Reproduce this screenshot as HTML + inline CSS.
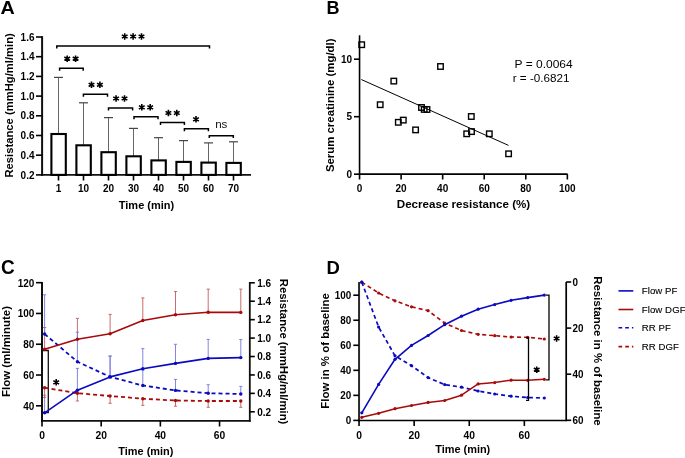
<!DOCTYPE html>
<html><head><meta charset="utf-8"><style>
html,body{margin:0;padding:0;background:#fff;}
body{width:685px;height:458px;overflow:hidden;}
svg{display:block;font-family:"Liberation Sans", sans-serif;will-change:transform;}
</style></head><body>
<svg width="685" height="458" viewBox="0 0 685 458">
<rect width="685" height="458" fill="#fff"/>
<text transform="translate(0.4,14.0) scale(1.06,1)" font-size="18.65" font-weight="bold" text-anchor="start" fill="#000" >A</text>
<line x1="42.1" y1="36.2" x2="42.1" y2="175.9" stroke="#111" stroke-width="2" />
<line x1="41.1" y1="174.9" x2="251" y2="174.9" stroke="#111" stroke-width="1.9" />
<line x1="36" y1="174.9" x2="42.1" y2="174.9" stroke="#000" stroke-width="1.6" />
<text x="34.5" y="178.5" font-size="10" font-weight="bold" text-anchor="end" fill="#000" >0.2</text>
<line x1="36" y1="155.20000000000002" x2="42.1" y2="155.20000000000002" stroke="#000" stroke-width="1.6" />
<text x="34.5" y="158.8" font-size="10" font-weight="bold" text-anchor="end" fill="#000" >0.4</text>
<line x1="36" y1="135.5" x2="42.1" y2="135.5" stroke="#000" stroke-width="1.6" />
<text x="34.5" y="139.1" font-size="10" font-weight="bold" text-anchor="end" fill="#000" >0.6</text>
<line x1="36" y1="115.8" x2="42.1" y2="115.8" stroke="#000" stroke-width="1.6" />
<text x="34.5" y="119.39999999999999" font-size="10" font-weight="bold" text-anchor="end" fill="#000" >0.8</text>
<line x1="36" y1="96.10000000000001" x2="42.1" y2="96.10000000000001" stroke="#000" stroke-width="1.6" />
<text x="34.5" y="99.7" font-size="10" font-weight="bold" text-anchor="end" fill="#000" >1.0</text>
<line x1="36" y1="76.4" x2="42.1" y2="76.4" stroke="#000" stroke-width="1.6" />
<text x="34.5" y="80.0" font-size="10" font-weight="bold" text-anchor="end" fill="#000" >1.2</text>
<line x1="36" y1="56.69999999999999" x2="42.1" y2="56.69999999999999" stroke="#000" stroke-width="1.6" />
<text x="34.5" y="60.29999999999999" font-size="10" font-weight="bold" text-anchor="end" fill="#000" >1.4</text>
<line x1="36" y1="37.0" x2="42.1" y2="37.0" stroke="#000" stroke-width="1.6" />
<text x="34.5" y="40.6" font-size="10" font-weight="bold" text-anchor="end" fill="#000" >1.6</text>
<line x1="58.5" y1="77.4" x2="58.5" y2="134.0" stroke="#666" stroke-width="1" />
<line x1="54.0" y1="77.4" x2="63.0" y2="77.4" stroke="#444" stroke-width="1.2" />
<rect x="51.4" y="134.0" width="14.4" height="40.900000000000006" fill="#fff" stroke="#000" stroke-width="2.1"/>
<line x1="58.5" y1="174.9" x2="58.5" y2="180.5" stroke="#000" stroke-width="1.6" />
<text x="58.5" y="192" font-size="10" font-weight="bold" text-anchor="middle" fill="#000" >1</text>
<line x1="83.5" y1="102.8" x2="83.5" y2="145.3" stroke="#666" stroke-width="1" />
<line x1="79.0" y1="102.8" x2="88.0" y2="102.8" stroke="#444" stroke-width="1.2" />
<rect x="76.39999999999999" y="145.3" width="14.4" height="29.599999999999994" fill="#fff" stroke="#000" stroke-width="2.1"/>
<line x1="83.5" y1="174.9" x2="83.5" y2="180.5" stroke="#000" stroke-width="1.6" />
<text x="83.5" y="192" font-size="10" font-weight="bold" text-anchor="middle" fill="#000" >10</text>
<line x1="108.5" y1="117.6" x2="108.5" y2="152.2" stroke="#666" stroke-width="1" />
<line x1="104.0" y1="117.6" x2="113.0" y2="117.6" stroke="#444" stroke-width="1.2" />
<rect x="101.39999999999999" y="152.2" width="14.4" height="22.700000000000017" fill="#fff" stroke="#000" stroke-width="2.1"/>
<line x1="108.5" y1="174.9" x2="108.5" y2="180.5" stroke="#000" stroke-width="1.6" />
<text x="108.5" y="192" font-size="10" font-weight="bold" text-anchor="middle" fill="#000" >20</text>
<line x1="133.5" y1="128.4" x2="133.5" y2="156.3" stroke="#666" stroke-width="1" />
<line x1="129.0" y1="128.4" x2="138.0" y2="128.4" stroke="#444" stroke-width="1.2" />
<rect x="126.39999999999999" y="156.3" width="14.4" height="18.599999999999994" fill="#fff" stroke="#000" stroke-width="2.1"/>
<line x1="133.5" y1="174.9" x2="133.5" y2="180.5" stroke="#000" stroke-width="1.6" />
<text x="133.5" y="192" font-size="10" font-weight="bold" text-anchor="middle" fill="#000" >30</text>
<line x1="158.5" y1="137.7" x2="158.5" y2="160.4" stroke="#666" stroke-width="1" />
<line x1="154.0" y1="137.7" x2="163.0" y2="137.7" stroke="#444" stroke-width="1.2" />
<rect x="151.4" y="160.4" width="14.4" height="14.5" fill="#fff" stroke="#000" stroke-width="2.1"/>
<line x1="158.5" y1="174.9" x2="158.5" y2="180.5" stroke="#000" stroke-width="1.6" />
<text x="158.5" y="192" font-size="10" font-weight="bold" text-anchor="middle" fill="#000" >40</text>
<line x1="183.5" y1="140.6" x2="183.5" y2="161.9" stroke="#666" stroke-width="1" />
<line x1="179.0" y1="140.6" x2="188.0" y2="140.6" stroke="#444" stroke-width="1.2" />
<rect x="176.4" y="161.9" width="14.4" height="13.0" fill="#fff" stroke="#000" stroke-width="2.1"/>
<line x1="183.5" y1="174.9" x2="183.5" y2="180.5" stroke="#000" stroke-width="1.6" />
<text x="183.5" y="192" font-size="10" font-weight="bold" text-anchor="middle" fill="#000" >50</text>
<line x1="208.5" y1="142.9" x2="208.5" y2="162.6" stroke="#666" stroke-width="1" />
<line x1="204.0" y1="142.9" x2="213.0" y2="142.9" stroke="#444" stroke-width="1.2" />
<rect x="201.4" y="162.6" width="14.4" height="12.300000000000011" fill="#fff" stroke="#000" stroke-width="2.1"/>
<line x1="208.5" y1="174.9" x2="208.5" y2="180.5" stroke="#000" stroke-width="1.6" />
<text x="208.5" y="192" font-size="10" font-weight="bold" text-anchor="middle" fill="#000" >60</text>
<line x1="233.5" y1="141.8" x2="233.5" y2="162.9" stroke="#666" stroke-width="1" />
<line x1="229.0" y1="141.8" x2="238.0" y2="141.8" stroke="#444" stroke-width="1.2" />
<rect x="226.4" y="162.9" width="14.4" height="12.0" fill="#fff" stroke="#000" stroke-width="2.1"/>
<line x1="233.5" y1="174.9" x2="233.5" y2="180.5" stroke="#000" stroke-width="1.6" />
<text x="233.5" y="192" font-size="10" font-weight="bold" text-anchor="middle" fill="#000" >70</text>
<text x="146.5" y="209" font-size="11" font-weight="bold" text-anchor="middle" fill="#000" >Time (min)</text>
<text x="0" y="0" font-size="11.25" font-weight="bold" text-anchor="middle" fill="#000" transform="translate(12.6,105.4) rotate(-90)">Resistance (mmHg/ml/min)</text>
<polyline points="56.8,48.5 56.8,46 209.5,46 209.5,48.5" fill="none" stroke="#000" stroke-width="1.5"/>
<path d="M124.70,33.20L124.70,39.80M121.84,34.85L127.56,38.15M127.56,34.85L121.84,38.15" stroke="#000" stroke-width="1.6" fill="none"/><circle cx="124.69999999999999" cy="36.5" r="1.3" fill="#000"/>
<path d="M133.10,33.20L133.10,39.80M130.24,34.85L135.96,38.15M135.96,34.85L130.24,38.15" stroke="#000" stroke-width="1.6" fill="none"/><circle cx="133.1" cy="36.5" r="1.3" fill="#000"/>
<path d="M141.50,33.20L141.50,39.80M138.64,34.85L144.36,38.15M144.36,34.85L138.64,38.15" stroke="#000" stroke-width="1.6" fill="none"/><circle cx="141.5" cy="36.5" r="1.3" fill="#000"/>
<polyline points="59.6,70.7 59.6,68.2 83.2,68.2 83.2,70.7" fill="none" stroke="#000" stroke-width="1.5"/>
<path d="M67.20,55.40L67.20,62.00M64.34,57.05L70.06,60.35M70.06,57.05L64.34,60.35" stroke="#000" stroke-width="1.6" fill="none"/><circle cx="67.2" cy="58.7" r="1.3" fill="#000"/>
<path d="M75.60,55.40L75.60,62.00M72.74,57.05L78.46,60.35M78.46,57.05L72.74,60.35" stroke="#000" stroke-width="1.6" fill="none"/><circle cx="75.60000000000001" cy="58.7" r="1.3" fill="#000"/>
<polyline points="83.4,96.8 83.4,94.3 107.5,94.3 107.5,96.8" fill="none" stroke="#000" stroke-width="1.5"/>
<path d="M91.50,81.50L91.50,88.10M88.64,83.15L94.36,86.45M94.36,83.15L88.64,86.45" stroke="#000" stroke-width="1.6" fill="none"/><circle cx="91.5" cy="84.8" r="1.3" fill="#000"/>
<path d="M99.90,81.50L99.90,88.10M97.04,83.15L102.76,86.45M102.76,83.15L97.04,86.45" stroke="#000" stroke-width="1.6" fill="none"/><circle cx="99.9" cy="84.8" r="1.3" fill="#000"/>
<polyline points="108.5,110.5 108.5,108 132.6,108 132.6,110.5" fill="none" stroke="#000" stroke-width="1.5"/>
<path d="M116.10,95.20L116.10,101.80M113.24,96.85L118.96,100.15M118.96,96.85L113.24,100.15" stroke="#000" stroke-width="1.6" fill="none"/><circle cx="116.1" cy="98.5" r="1.3" fill="#000"/>
<path d="M124.50,95.20L124.50,101.80M121.64,96.85L127.36,100.15M127.36,96.85L121.64,100.15" stroke="#000" stroke-width="1.6" fill="none"/><circle cx="124.5" cy="98.5" r="1.3" fill="#000"/>
<polyline points="134,119.3 134,116.8 158,116.8 158,119.3" fill="none" stroke="#000" stroke-width="1.5"/>
<path d="M141.80,104.00L141.80,110.60M138.94,105.65L144.66,108.95M144.66,105.65L138.94,108.95" stroke="#000" stroke-width="1.6" fill="none"/><circle cx="141.8" cy="107.3" r="1.3" fill="#000"/>
<path d="M150.20,104.00L150.20,110.60M147.34,105.65L153.06,108.95M153.06,105.65L147.34,108.95" stroke="#000" stroke-width="1.6" fill="none"/><circle cx="150.2" cy="107.3" r="1.3" fill="#000"/>
<polyline points="160.5,125.0 160.5,122.5 184.4,122.5 184.4,125.0" fill="none" stroke="#000" stroke-width="1.5"/>
<path d="M168.40,109.70L168.40,116.30M165.54,111.35L171.26,114.65M171.26,111.35L165.54,114.65" stroke="#000" stroke-width="1.6" fill="none"/><circle cx="168.4" cy="113.0" r="1.3" fill="#000"/>
<path d="M176.80,109.70L176.80,116.30M173.94,111.35L179.66,114.65M179.66,111.35L173.94,114.65" stroke="#000" stroke-width="1.6" fill="none"/><circle cx="176.79999999999998" cy="113.0" r="1.3" fill="#000"/>
<polyline points="184.4,131.3 184.4,128.8 208.4,128.8 208.4,131.3" fill="none" stroke="#000" stroke-width="1.5"/>
<path d="M196.00,116.00L196.00,122.60M193.14,117.65L198.86,120.95M198.86,117.65L193.14,120.95" stroke="#000" stroke-width="1.6" fill="none"/><circle cx="196.0" cy="119.30000000000001" r="1.3" fill="#000"/>
<polyline points="209.3,138.1 209.3,135.7 233.3,135.7 233.3,138.1" fill="none" stroke="#000" stroke-width="1.5"/>
<text x="221.3" y="128.4" font-size="11.6" font-weight="normal" text-anchor="middle" fill="#111" >ns</text>
<text x="326.6" y="13.8" font-size="18" font-weight="bold" text-anchor="start" fill="#000" >B</text>
<line x1="359.55" y1="35.3" x2="359.55" y2="175.0" stroke="#000" stroke-width="1.6" />
<line x1="358.75" y1="174.2" x2="567.6" y2="174.2" stroke="#000" stroke-width="1.75" />
<line x1="354" y1="174.2" x2="359.55" y2="174.2" stroke="#000" stroke-width="1.6" />
<text x="352" y="177.79999999999998" font-size="10" font-weight="bold" text-anchor="end" fill="#000" >0</text>
<line x1="354" y1="116.69999999999999" x2="359.55" y2="116.69999999999999" stroke="#000" stroke-width="1.6" />
<text x="352" y="120.29999999999998" font-size="10" font-weight="bold" text-anchor="end" fill="#000" >5</text>
<line x1="354" y1="59.19999999999999" x2="359.55" y2="59.19999999999999" stroke="#000" stroke-width="1.6" />
<text x="352" y="62.79999999999999" font-size="10" font-weight="bold" text-anchor="end" fill="#000" >10</text>
<line x1="359.55" y1="174.2" x2="359.55" y2="179.5" stroke="#000" stroke-width="1.6" />
<text x="359.55" y="192" font-size="10" font-weight="bold" text-anchor="middle" fill="#000" >0</text>
<line x1="401.11" y1="174.2" x2="401.11" y2="179.5" stroke="#000" stroke-width="1.6" />
<text x="401.11" y="192" font-size="10" font-weight="bold" text-anchor="middle" fill="#000" >20</text>
<line x1="442.67" y1="174.2" x2="442.67" y2="179.5" stroke="#000" stroke-width="1.6" />
<text x="442.67" y="192" font-size="10" font-weight="bold" text-anchor="middle" fill="#000" >40</text>
<line x1="484.23" y1="174.2" x2="484.23" y2="179.5" stroke="#000" stroke-width="1.6" />
<text x="484.23" y="192" font-size="10" font-weight="bold" text-anchor="middle" fill="#000" >60</text>
<line x1="525.79" y1="174.2" x2="525.79" y2="179.5" stroke="#000" stroke-width="1.6" />
<text x="525.79" y="192" font-size="10" font-weight="bold" text-anchor="middle" fill="#000" >80</text>
<line x1="567.35" y1="174.2" x2="567.35" y2="179.5" stroke="#000" stroke-width="1.6" />
<text x="567.35" y="192" font-size="10" font-weight="bold" text-anchor="middle" fill="#000" >100</text>
<text x="463.5" y="208.2" font-size="11.6" font-weight="bold" text-anchor="middle" fill="#000" >Decrease resistance (%)</text>
<text x="0" y="0" font-size="11.4" font-weight="bold" text-anchor="middle" fill="#000" transform="translate(334.3,105.3) rotate(-90)">Serum creatinine (mg/dl)</text>
<rect x="358.95" y="41.95" width="5.5" height="5.5" fill="none" stroke="#000" stroke-width="1.4"/>
<rect x="391.05" y="78.35" width="5.5" height="5.5" fill="none" stroke="#000" stroke-width="1.4"/>
<rect x="437.75" y="63.75" width="5.5" height="5.5" fill="none" stroke="#000" stroke-width="1.4"/>
<rect x="377.45" y="101.95" width="5.5" height="5.5" fill="none" stroke="#000" stroke-width="1.4"/>
<rect x="395.55" y="119.55" width="5.5" height="5.5" fill="none" stroke="#000" stroke-width="1.4"/>
<rect x="400.55" y="117.35" width="5.5" height="5.5" fill="none" stroke="#000" stroke-width="1.4"/>
<rect x="412.85" y="127.15" width="5.5" height="5.5" fill="none" stroke="#000" stroke-width="1.4"/>
<rect x="418.75" y="104.75" width="5.5" height="5.5" fill="none" stroke="#000" stroke-width="1.4"/>
<rect x="421.45" y="106.65" width="5.5" height="5.5" fill="none" stroke="#000" stroke-width="1.4"/>
<rect x="424.25" y="106.75" width="5.5" height="5.5" fill="none" stroke="#000" stroke-width="1.4"/>
<rect x="463.95" y="131.05" width="5.5" height="5.5" fill="none" stroke="#000" stroke-width="1.4"/>
<rect x="468.55" y="113.75" width="5.5" height="5.5" fill="none" stroke="#000" stroke-width="1.4"/>
<rect x="468.75" y="128.85" width="5.5" height="5.5" fill="none" stroke="#000" stroke-width="1.4"/>
<rect x="486.55" y="131.05" width="5.5" height="5.5" fill="none" stroke="#000" stroke-width="1.4"/>
<rect x="505.85" y="151.05" width="5.5" height="5.5" fill="none" stroke="#000" stroke-width="1.4"/>
<line x1="361.3" y1="79.5" x2="508.5" y2="145.4" stroke="#000" stroke-width="1" />
<text transform="translate(514.6,68.1) scale(1,0.92)" font-size="12" font-weight="normal" text-anchor="start" fill="#000" >P = 0.0064</text>
<text transform="translate(512.7,81.9) scale(0.975,0.92)" font-size="12" font-weight="normal" text-anchor="start" fill="#000" >r = -0.6821</text>
<text transform="translate(1.0,274.0) scale(0.976,1)" font-size="19.5" font-weight="bold" text-anchor="start" fill="#000" >C</text>
<line x1="42.0" y1="282" x2="42.0" y2="421.85" stroke="#111" stroke-width="2" />
<line x1="41.0" y1="420.85" x2="250.65" y2="420.85" stroke="#111" stroke-width="1.85" />
<line x1="249.8" y1="282" x2="249.8" y2="421.75" stroke="#111" stroke-width="1.8" />
<line x1="36" y1="405.8" x2="42.0" y2="405.8" stroke="#000" stroke-width="1.6" />
<text transform="translate(34.3,409.7) scale(0.94,1)" font-size="10.6" font-weight="bold" text-anchor="end" fill="#000" >40</text>
<line x1="36" y1="375.02" x2="42.0" y2="375.02" stroke="#000" stroke-width="1.6" />
<text transform="translate(34.3,378.91999999999996) scale(0.94,1)" font-size="10.6" font-weight="bold" text-anchor="end" fill="#000" >60</text>
<line x1="36" y1="344.24" x2="42.0" y2="344.24" stroke="#000" stroke-width="1.6" />
<text transform="translate(34.3,348.14) scale(0.94,1)" font-size="10.6" font-weight="bold" text-anchor="end" fill="#000" >80</text>
<line x1="36" y1="313.46000000000004" x2="42.0" y2="313.46000000000004" stroke="#000" stroke-width="1.6" />
<text transform="translate(34.3,317.36) scale(0.94,1)" font-size="10.6" font-weight="bold" text-anchor="end" fill="#000" >100</text>
<line x1="36" y1="282.68" x2="42.0" y2="282.68" stroke="#000" stroke-width="1.6" />
<text transform="translate(34.3,286.58) scale(0.94,1)" font-size="10.6" font-weight="bold" text-anchor="end" fill="#000" >120</text>
<line x1="249.8" y1="411.8" x2="254.8" y2="411.8" stroke="#000" stroke-width="1.6" />
<text transform="translate(257.2,415.6) scale(0.95,1)" font-size="10.5" font-weight="bold" text-anchor="start" fill="#000" >0.2</text>
<line x1="249.8" y1="393.37142857142857" x2="254.8" y2="393.37142857142857" stroke="#000" stroke-width="1.6" />
<text transform="translate(257.2,397.1714285714286) scale(0.95,1)" font-size="10.5" font-weight="bold" text-anchor="start" fill="#000" >0.4</text>
<line x1="249.8" y1="374.9428571428572" x2="254.8" y2="374.9428571428572" stroke="#000" stroke-width="1.6" />
<text transform="translate(257.2,378.7428571428572) scale(0.95,1)" font-size="10.5" font-weight="bold" text-anchor="start" fill="#000" >0.6</text>
<line x1="249.8" y1="356.51428571428573" x2="254.8" y2="356.51428571428573" stroke="#000" stroke-width="1.6" />
<text transform="translate(257.2,360.31428571428575) scale(0.95,1)" font-size="10.5" font-weight="bold" text-anchor="start" fill="#000" >0.8</text>
<line x1="249.8" y1="338.0857142857143" x2="254.8" y2="338.0857142857143" stroke="#000" stroke-width="1.6" />
<text transform="translate(257.2,341.8857142857143) scale(0.95,1)" font-size="10.5" font-weight="bold" text-anchor="start" fill="#000" >1.0</text>
<line x1="249.8" y1="319.65714285714284" x2="254.8" y2="319.65714285714284" stroke="#000" stroke-width="1.6" />
<text transform="translate(257.2,323.45714285714286) scale(0.95,1)" font-size="10.5" font-weight="bold" text-anchor="start" fill="#000" >1.2</text>
<line x1="249.8" y1="301.22857142857146" x2="254.8" y2="301.22857142857146" stroke="#000" stroke-width="1.6" />
<text transform="translate(257.2,305.02857142857147) scale(0.95,1)" font-size="10.5" font-weight="bold" text-anchor="start" fill="#000" >1.4</text>
<line x1="249.8" y1="282.8" x2="254.8" y2="282.8" stroke="#000" stroke-width="1.6" />
<text transform="translate(257.2,286.6) scale(0.95,1)" font-size="10.5" font-weight="bold" text-anchor="start" fill="#000" >1.6</text>
<line x1="42.0" y1="420.85" x2="42.0" y2="426.5" stroke="#000" stroke-width="1.6" />
<text x="42.0" y="438.7" font-size="10.3" font-weight="bold" text-anchor="middle" fill="#000" >0</text>
<line x1="101.18" y1="420.85" x2="101.18" y2="426.5" stroke="#000" stroke-width="1.6" />
<text x="101.18" y="438.7" font-size="10.3" font-weight="bold" text-anchor="middle" fill="#000" >20</text>
<line x1="160.36" y1="420.85" x2="160.36" y2="426.5" stroke="#000" stroke-width="1.6" />
<text x="160.36" y="438.7" font-size="10.3" font-weight="bold" text-anchor="middle" fill="#000" >40</text>
<line x1="219.54" y1="420.85" x2="219.54" y2="426.5" stroke="#000" stroke-width="1.6" />
<text x="219.54" y="438.7" font-size="10.3" font-weight="bold" text-anchor="middle" fill="#000" >60</text>
<text transform="translate(145.8,454.7) scale(0.96,1)" font-size="11.4" font-weight="bold" text-anchor="middle" fill="#000" >Time (min)</text>
<text transform="translate(10.4,351.5) rotate(-90) scale(1,1)" font-size="11.45" font-weight="bold" text-anchor="middle">Flow (ml/minute)</text>
<text transform="translate(280.1,351.6) rotate(90) scale(1,1)" font-size="11.35" font-weight="bold" text-anchor="middle">Resistance (mmHg/ml/min)</text>
<line x1="44.6" y1="349.2" x2="44.6" y2="327.5" stroke="#c25c5c" stroke-width="0.9" />
<line x1="43.0" y1="327.5" x2="46.2" y2="327.5" stroke="#c25c5c" stroke-width="0.9" />
<line x1="77.4" y1="339.2" x2="77.4" y2="318.4" stroke="#c25c5c" stroke-width="0.9" />
<line x1="75.80000000000001" y1="318.4" x2="79.0" y2="318.4" stroke="#c25c5c" stroke-width="0.9" />
<line x1="110.1" y1="333.8" x2="110.1" y2="314.4" stroke="#c25c5c" stroke-width="0.9" />
<line x1="108.5" y1="314.4" x2="111.69999999999999" y2="314.4" stroke="#c25c5c" stroke-width="0.9" />
<line x1="142.8" y1="320.5" x2="142.8" y2="297.9" stroke="#c25c5c" stroke-width="0.9" />
<line x1="141.20000000000002" y1="297.9" x2="144.4" y2="297.9" stroke="#c25c5c" stroke-width="0.9" />
<line x1="175.5" y1="314.8" x2="175.5" y2="291.6" stroke="#c25c5c" stroke-width="0.9" />
<line x1="173.9" y1="291.6" x2="177.1" y2="291.6" stroke="#c25c5c" stroke-width="0.9" />
<line x1="208.2" y1="312.3" x2="208.2" y2="289.1" stroke="#c25c5c" stroke-width="0.9" />
<line x1="206.6" y1="289.1" x2="209.79999999999998" y2="289.1" stroke="#c25c5c" stroke-width="0.9" />
<line x1="240.8" y1="312.4" x2="240.8" y2="289.1" stroke="#c25c5c" stroke-width="0.9" />
<line x1="239.20000000000002" y1="289.1" x2="242.4" y2="289.1" stroke="#c25c5c" stroke-width="0.9" />
<line x1="44.6" y1="412.8" x2="44.6" y2="395.2" stroke="#7878dc" stroke-width="0.9" />
<line x1="43.0" y1="395.2" x2="46.2" y2="395.2" stroke="#7878dc" stroke-width="0.9" />
<line x1="77.4" y1="390.2" x2="77.4" y2="368.4" stroke="#7878dc" stroke-width="0.9" />
<line x1="75.80000000000001" y1="368.4" x2="79.0" y2="368.4" stroke="#7878dc" stroke-width="0.9" />
<line x1="110.1" y1="376.9" x2="110.1" y2="356.1" stroke="#7878dc" stroke-width="0.9" />
<line x1="108.5" y1="356.1" x2="111.69999999999999" y2="356.1" stroke="#7878dc" stroke-width="0.9" />
<line x1="142.8" y1="368.8" x2="142.8" y2="348.6" stroke="#7878dc" stroke-width="0.9" />
<line x1="141.20000000000002" y1="348.6" x2="144.4" y2="348.6" stroke="#7878dc" stroke-width="0.9" />
<line x1="175.5" y1="363.4" x2="175.5" y2="344.3" stroke="#7878dc" stroke-width="0.9" />
<line x1="173.9" y1="344.3" x2="177.1" y2="344.3" stroke="#7878dc" stroke-width="0.9" />
<line x1="208.2" y1="358.4" x2="208.2" y2="339.4" stroke="#7878dc" stroke-width="0.9" />
<line x1="206.6" y1="339.4" x2="209.79999999999998" y2="339.4" stroke="#7878dc" stroke-width="0.9" />
<line x1="240.8" y1="357.6" x2="240.8" y2="339.5" stroke="#7878dc" stroke-width="0.9" />
<line x1="239.20000000000002" y1="339.5" x2="242.4" y2="339.5" stroke="#7878dc" stroke-width="0.9" />
<line x1="44.6" y1="334.0" x2="44.6" y2="294.8" stroke="#7878dc" stroke-width="0.9" />
<line x1="43.0" y1="294.8" x2="46.2" y2="294.8" stroke="#7878dc" stroke-width="0.9" />
<line x1="77.4" y1="361.7" x2="77.4" y2="332.2" stroke="#7878dc" stroke-width="0.9" />
<line x1="75.80000000000001" y1="332.2" x2="79.0" y2="332.2" stroke="#7878dc" stroke-width="0.9" />
<line x1="110.1" y1="376.9" x2="110.1" y2="356.0" stroke="#7878dc" stroke-width="0.9" />
<line x1="108.5" y1="356.0" x2="111.69999999999999" y2="356.0" stroke="#7878dc" stroke-width="0.9" />
<line x1="142.8" y1="385.5" x2="142.8" y2="370" stroke="#7878dc" stroke-width="0.9" />
<line x1="141.20000000000002" y1="370" x2="144.4" y2="370" stroke="#7878dc" stroke-width="0.9" />
<line x1="175.5" y1="390.4" x2="175.5" y2="379.4" stroke="#7878dc" stroke-width="0.9" />
<line x1="173.9" y1="379.4" x2="177.1" y2="379.4" stroke="#7878dc" stroke-width="0.9" />
<line x1="208.2" y1="393.2" x2="208.2" y2="384.7" stroke="#7878dc" stroke-width="0.9" />
<line x1="206.6" y1="384.7" x2="209.79999999999998" y2="384.7" stroke="#7878dc" stroke-width="0.9" />
<line x1="240.8" y1="394.0" x2="240.8" y2="386.4" stroke="#7878dc" stroke-width="0.9" />
<line x1="239.20000000000002" y1="386.4" x2="242.4" y2="386.4" stroke="#7878dc" stroke-width="0.9" />
<line x1="44.6" y1="387.7" x2="44.6" y2="397.4" stroke="#c25c5c" stroke-width="0.9" />
<line x1="43.0" y1="397.4" x2="46.2" y2="397.4" stroke="#c25c5c" stroke-width="0.9" />
<line x1="77.4" y1="393.2" x2="77.4" y2="401.0" stroke="#c25c5c" stroke-width="0.9" />
<line x1="75.80000000000001" y1="401.0" x2="79.0" y2="401.0" stroke="#c25c5c" stroke-width="0.9" />
<line x1="110.1" y1="396.0" x2="110.1" y2="403.3" stroke="#c25c5c" stroke-width="0.9" />
<line x1="108.5" y1="403.3" x2="111.69999999999999" y2="403.3" stroke="#c25c5c" stroke-width="0.9" />
<line x1="142.8" y1="398.7" x2="142.8" y2="405.4" stroke="#c25c5c" stroke-width="0.9" />
<line x1="141.20000000000002" y1="405.4" x2="144.4" y2="405.4" stroke="#c25c5c" stroke-width="0.9" />
<line x1="175.5" y1="400.5" x2="175.5" y2="406.2" stroke="#c25c5c" stroke-width="0.9" />
<line x1="173.9" y1="406.2" x2="177.1" y2="406.2" stroke="#c25c5c" stroke-width="0.9" />
<line x1="208.2" y1="401.0" x2="208.2" y2="407.3" stroke="#c25c5c" stroke-width="0.9" />
<line x1="206.6" y1="407.3" x2="209.79999999999998" y2="407.3" stroke="#c25c5c" stroke-width="0.9" />
<line x1="240.8" y1="401.0" x2="240.8" y2="407.3" stroke="#c25c5c" stroke-width="0.9" />
<line x1="239.20000000000002" y1="407.3" x2="242.4" y2="407.3" stroke="#c25c5c" stroke-width="0.9" />
<polyline points="42.3,350.5 48.3,350.5 48.3,412.6 42.3,412.6" fill="none" stroke="#111" stroke-width="1.3"/>
<path d="M56.20,379.00L56.20,385.60M53.34,380.65L59.06,383.95M59.06,380.65L53.34,383.95" stroke="#000" stroke-width="1.6" fill="none"/><circle cx="56.2" cy="382.3" r="1.3" fill="#000"/>
<polyline points="44.6,387.7 77.4,393.2 110.1,396.0 142.8,398.7 175.5,400.5 208.2,401.0 240.8,401.0" fill="none" stroke="#a80a0a" stroke-width="1.8" stroke-linejoin="round" stroke-dasharray="4,3"/>
<circle cx="44.6" cy="387.7" r="1.7" fill="#a80a0a"/>
<circle cx="77.4" cy="393.2" r="1.7" fill="#a80a0a"/>
<circle cx="110.1" cy="396.0" r="1.7" fill="#a80a0a"/>
<circle cx="142.8" cy="398.7" r="1.7" fill="#a80a0a"/>
<circle cx="175.5" cy="400.5" r="1.7" fill="#a80a0a"/>
<circle cx="208.2" cy="401.0" r="1.7" fill="#a80a0a"/>
<circle cx="240.8" cy="401.0" r="1.7" fill="#a80a0a"/>
<polyline points="44.6,334.0 77.4,361.7 110.1,376.9 142.8,385.5 175.5,390.4 208.2,393.2 240.8,394.0" fill="none" stroke="#0a0ac0" stroke-width="1.8" stroke-linejoin="round" stroke-dasharray="4,3"/>
<circle cx="44.6" cy="334.0" r="1.7" fill="#0a0ac0"/>
<circle cx="77.4" cy="361.7" r="1.7" fill="#0a0ac0"/>
<circle cx="110.1" cy="376.9" r="1.7" fill="#0a0ac0"/>
<circle cx="142.8" cy="385.5" r="1.7" fill="#0a0ac0"/>
<circle cx="175.5" cy="390.4" r="1.7" fill="#0a0ac0"/>
<circle cx="208.2" cy="393.2" r="1.7" fill="#0a0ac0"/>
<circle cx="240.8" cy="394.0" r="1.7" fill="#0a0ac0"/>
<polyline points="44.6,349.2 77.4,339.2 110.1,333.8 142.8,320.5 175.5,314.8 208.2,312.3 240.8,312.4" fill="none" stroke="#a80a0a" stroke-width="1.6" stroke-linejoin="round"/>
<circle cx="44.6" cy="349.2" r="1.7" fill="#a80a0a"/>
<circle cx="77.4" cy="339.2" r="1.7" fill="#a80a0a"/>
<circle cx="110.1" cy="333.8" r="1.7" fill="#a80a0a"/>
<circle cx="142.8" cy="320.5" r="1.7" fill="#a80a0a"/>
<circle cx="175.5" cy="314.8" r="1.7" fill="#a80a0a"/>
<circle cx="208.2" cy="312.3" r="1.7" fill="#a80a0a"/>
<circle cx="240.8" cy="312.4" r="1.7" fill="#a80a0a"/>
<polyline points="44.6,412.8 77.4,390.2 110.1,376.9 142.8,368.8 175.5,363.4 208.2,358.4 240.8,357.6" fill="none" stroke="#0a0ac0" stroke-width="1.6" stroke-linejoin="round"/>
<circle cx="44.6" cy="412.8" r="1.7" fill="#0a0ac0"/>
<circle cx="77.4" cy="390.2" r="1.7" fill="#0a0ac0"/>
<circle cx="110.1" cy="376.9" r="1.7" fill="#0a0ac0"/>
<circle cx="142.8" cy="368.8" r="1.7" fill="#0a0ac0"/>
<circle cx="175.5" cy="363.4" r="1.7" fill="#0a0ac0"/>
<circle cx="208.2" cy="358.4" r="1.7" fill="#0a0ac0"/>
<circle cx="240.8" cy="357.6" r="1.7" fill="#0a0ac0"/>
<text x="326.6" y="273.6" font-size="18.5" font-weight="bold" text-anchor="start" fill="#000" >D</text>
<line x1="359.05" y1="282" x2="359.05" y2="421.4" stroke="#2a2a2a" stroke-width="2" />
<line x1="358.05" y1="420.4" x2="567.0" y2="420.4" stroke="#000" stroke-width="1.5" />
<line x1="566.2" y1="282" x2="566.2" y2="421.09999999999997" stroke="#000" stroke-width="1.7" />
<line x1="353.3" y1="420.4" x2="359.05" y2="420.4" stroke="#000" stroke-width="1.6" />
<text transform="translate(351.2,424.2) scale(0.95,1)" font-size="10.4" font-weight="bold" text-anchor="end" fill="#000" >0</text>
<line x1="353.3" y1="395.35999999999996" x2="359.05" y2="395.35999999999996" stroke="#000" stroke-width="1.6" />
<text transform="translate(351.2,399.15999999999997) scale(0.95,1)" font-size="10.4" font-weight="bold" text-anchor="end" fill="#000" >20</text>
<line x1="353.3" y1="370.32" x2="359.05" y2="370.32" stroke="#000" stroke-width="1.6" />
<text transform="translate(351.2,374.12) scale(0.95,1)" font-size="10.4" font-weight="bold" text-anchor="end" fill="#000" >40</text>
<line x1="353.3" y1="345.28" x2="359.05" y2="345.28" stroke="#000" stroke-width="1.6" />
<text transform="translate(351.2,349.08) scale(0.95,1)" font-size="10.4" font-weight="bold" text-anchor="end" fill="#000" >60</text>
<line x1="353.3" y1="320.24" x2="359.05" y2="320.24" stroke="#000" stroke-width="1.6" />
<text transform="translate(351.2,324.04) scale(0.95,1)" font-size="10.4" font-weight="bold" text-anchor="end" fill="#000" >80</text>
<line x1="353.3" y1="295.2" x2="359.05" y2="295.2" stroke="#000" stroke-width="1.6" />
<text transform="translate(351.2,299.0) scale(0.95,1)" font-size="10.4" font-weight="bold" text-anchor="end" fill="#000" >100</text>
<line x1="566.2" y1="282.0" x2="571.2" y2="282.0" stroke="#000" stroke-width="1.6" />
<text transform="translate(572.5,285.8) scale(0.95,1)" font-size="10.4" font-weight="bold" text-anchor="start" fill="#000" >0</text>
<line x1="566.2" y1="328.1" x2="571.2" y2="328.1" stroke="#000" stroke-width="1.6" />
<text transform="translate(572.5,331.90000000000003) scale(0.95,1)" font-size="10.4" font-weight="bold" text-anchor="start" fill="#000" >20</text>
<line x1="566.2" y1="374.2" x2="571.2" y2="374.2" stroke="#000" stroke-width="1.6" />
<text transform="translate(572.5,378.0) scale(0.95,1)" font-size="10.4" font-weight="bold" text-anchor="start" fill="#000" >40</text>
<line x1="566.2" y1="420.3" x2="571.2" y2="420.3" stroke="#000" stroke-width="1.6" />
<text transform="translate(572.5,424.1) scale(0.95,1)" font-size="10.4" font-weight="bold" text-anchor="start" fill="#000" >60</text>
<line x1="359.05" y1="420.4" x2="359.05" y2="426" stroke="#000" stroke-width="1.6" />
<text x="359.05" y="438.7" font-size="10.3" font-weight="bold" text-anchor="middle" fill="#000" >0</text>
<line x1="414.15" y1="420.4" x2="414.15" y2="426" stroke="#000" stroke-width="1.6" />
<text x="414.15" y="438.7" font-size="10.3" font-weight="bold" text-anchor="middle" fill="#000" >20</text>
<line x1="469.25" y1="420.4" x2="469.25" y2="426" stroke="#000" stroke-width="1.6" />
<text x="469.25" y="438.7" font-size="10.3" font-weight="bold" text-anchor="middle" fill="#000" >40</text>
<line x1="524.35" y1="420.4" x2="524.35" y2="426" stroke="#000" stroke-width="1.6" />
<text x="524.35" y="438.7" font-size="10.3" font-weight="bold" text-anchor="middle" fill="#000" >60</text>
<text transform="translate(462.7,452.9) scale(0.96,1)" font-size="11.4" font-weight="bold" text-anchor="middle" fill="#000" >Time (min)</text>
<text transform="translate(329.2,350.9) rotate(-90) scale(1,1)" font-size="11.45" font-weight="bold" text-anchor="middle">Flow in % of baseline</text>
<text transform="translate(594.0,351) rotate(90) scale(1,1)" font-size="11.4" font-weight="bold" text-anchor="middle">Resistance in % of baseline</text>
<polyline points="361.8,282.2 378.6,293.0 395.0,300.8 411.5,306.8 428.1,310.7 444.7,323.2 461.5,330.5 478.1,334.3 494.7,335.7 511.1,337.0 527.7,337.3 544.3,339.0" fill="none" stroke="#a80a0a" stroke-width="1.6" stroke-linejoin="round" stroke-dasharray="4,3"/>
<circle cx="361.8" cy="282.2" r="1.6" fill="#a80a0a"/>
<circle cx="378.6" cy="293.0" r="1.6" fill="#a80a0a"/>
<circle cx="395.0" cy="300.8" r="1.6" fill="#a80a0a"/>
<circle cx="411.5" cy="306.8" r="1.6" fill="#a80a0a"/>
<circle cx="428.1" cy="310.7" r="1.6" fill="#a80a0a"/>
<circle cx="444.7" cy="323.2" r="1.6" fill="#a80a0a"/>
<circle cx="461.5" cy="330.5" r="1.6" fill="#a80a0a"/>
<circle cx="478.1" cy="334.3" r="1.6" fill="#a80a0a"/>
<circle cx="494.7" cy="335.7" r="1.6" fill="#a80a0a"/>
<circle cx="511.1" cy="337.0" r="1.6" fill="#a80a0a"/>
<circle cx="527.7" cy="337.3" r="1.6" fill="#a80a0a"/>
<circle cx="544.3" cy="339.0" r="1.6" fill="#a80a0a"/>
<polyline points="361.8,282.2 378.6,327.0 395.0,355.8 411.5,365.7 428.1,377.6 444.7,384.6 461.5,387.2 478.1,391.0 494.7,394.0 511.1,396.2 527.7,397.5 544.3,398.0" fill="none" stroke="#0a0ac0" stroke-width="1.7" stroke-linejoin="round" stroke-dasharray="4,3"/>
<circle cx="361.8" cy="282.2" r="1.6" fill="#0a0ac0"/>
<circle cx="378.6" cy="327.0" r="1.6" fill="#0a0ac0"/>
<circle cx="395.0" cy="355.8" r="1.6" fill="#0a0ac0"/>
<circle cx="411.5" cy="365.7" r="1.6" fill="#0a0ac0"/>
<circle cx="428.1" cy="377.6" r="1.6" fill="#0a0ac0"/>
<circle cx="444.7" cy="384.6" r="1.6" fill="#0a0ac0"/>
<circle cx="461.5" cy="387.2" r="1.6" fill="#0a0ac0"/>
<circle cx="478.1" cy="391.0" r="1.6" fill="#0a0ac0"/>
<circle cx="494.7" cy="394.0" r="1.6" fill="#0a0ac0"/>
<circle cx="511.1" cy="396.2" r="1.6" fill="#0a0ac0"/>
<circle cx="527.7" cy="397.5" r="1.6" fill="#0a0ac0"/>
<circle cx="544.3" cy="398.0" r="1.6" fill="#0a0ac0"/>
<polyline points="361.8,417.3 378.6,413.3 395.0,408.7 411.5,405.5 428.1,402.4 444.7,400.5 461.5,395.2 478.1,383.9 494.7,382.6 511.1,380.2 527.7,380.3 544.3,379.3" fill="none" stroke="#a80a0a" stroke-width="1.5" stroke-linejoin="round"/>
<circle cx="361.8" cy="417.3" r="1.6" fill="#a80a0a"/>
<circle cx="378.6" cy="413.3" r="1.6" fill="#a80a0a"/>
<circle cx="395.0" cy="408.7" r="1.6" fill="#a80a0a"/>
<circle cx="411.5" cy="405.5" r="1.6" fill="#a80a0a"/>
<circle cx="428.1" cy="402.4" r="1.6" fill="#a80a0a"/>
<circle cx="444.7" cy="400.5" r="1.6" fill="#a80a0a"/>
<circle cx="461.5" cy="395.2" r="1.6" fill="#a80a0a"/>
<circle cx="478.1" cy="383.9" r="1.6" fill="#a80a0a"/>
<circle cx="494.7" cy="382.6" r="1.6" fill="#a80a0a"/>
<circle cx="511.1" cy="380.2" r="1.6" fill="#a80a0a"/>
<circle cx="527.7" cy="380.3" r="1.6" fill="#a80a0a"/>
<circle cx="544.3" cy="379.3" r="1.6" fill="#a80a0a"/>
<polyline points="361.8,412.8 378.6,384.4 395.0,359.3 411.5,345.4 428.1,335.5 444.7,324.7 461.5,316.2 478.1,309.2 494.7,304.6 511.1,300.3 527.7,297.6 544.3,295.1" fill="none" stroke="#0a0ac0" stroke-width="1.6" stroke-linejoin="round"/>
<circle cx="361.8" cy="412.8" r="1.6" fill="#0a0ac0"/>
<circle cx="378.6" cy="384.4" r="1.6" fill="#0a0ac0"/>
<circle cx="395.0" cy="359.3" r="1.6" fill="#0a0ac0"/>
<circle cx="411.5" cy="345.4" r="1.6" fill="#0a0ac0"/>
<circle cx="428.1" cy="335.5" r="1.6" fill="#0a0ac0"/>
<circle cx="444.7" cy="324.7" r="1.6" fill="#0a0ac0"/>
<circle cx="461.5" cy="316.2" r="1.6" fill="#0a0ac0"/>
<circle cx="478.1" cy="309.2" r="1.6" fill="#0a0ac0"/>
<circle cx="494.7" cy="304.6" r="1.6" fill="#0a0ac0"/>
<circle cx="511.1" cy="300.3" r="1.6" fill="#0a0ac0"/>
<circle cx="527.7" cy="297.6" r="1.6" fill="#0a0ac0"/>
<circle cx="544.3" cy="295.1" r="1.6" fill="#0a0ac0"/>
<polyline points="546,295.1 549,295.1 549,379.8 546,379.8" fill="none" stroke="#000" stroke-width="1.3"/>
<path d="M556.60,335.20L556.60,341.80M553.74,336.85L559.46,340.15M559.46,336.85L553.74,340.15" stroke="#000" stroke-width="1.6" fill="none"/><circle cx="556.6" cy="338.5" r="1.3" fill="#000"/>
<polyline points="526,337.8 528.5,337.8 528.5,400.3 526,400.3" fill="none" stroke="#000" stroke-width="1.3"/>
<path d="M536.70,366.40L536.70,373.00M533.84,368.05L539.56,371.35M539.56,368.05L533.84,371.35" stroke="#000" stroke-width="1.6" fill="none"/><circle cx="536.7" cy="369.7" r="1.3" fill="#000"/>
<line x1="618.5" y1="290.9" x2="633.3" y2="290.9" stroke="#0a0ac0" stroke-width="1.6" />
<text x="641.7" y="294.2" font-size="9.6" font-weight="normal" text-anchor="start" fill="#000" stroke="#000" stroke-width="0.12" letter-spacing="0.1">Flow PF</text>
<line x1="618.5" y1="309.5" x2="633.3" y2="309.5" stroke="#a80a0a" stroke-width="1.6" />
<text x="641.7" y="312.8" font-size="9.6" font-weight="normal" text-anchor="start" fill="#000" stroke="#000" stroke-width="0.12" letter-spacing="0.1">Flow DGF</text>
<line x1="618.5" y1="327.8" x2="633.3" y2="327.8" stroke="#0a0ac0" stroke-width="1.6" stroke-dasharray="3.7,3"/>
<text x="641.7" y="331.1" font-size="9.6" font-weight="normal" text-anchor="start" fill="#000" stroke="#000" stroke-width="0.12" letter-spacing="0.1">RR PF</text>
<line x1="618.5" y1="346.6" x2="633.3" y2="346.6" stroke="#a80a0a" stroke-width="1.6" stroke-dasharray="3.7,3"/>
<text x="641.7" y="349.90000000000003" font-size="9.6" font-weight="normal" text-anchor="start" fill="#000" stroke="#000" stroke-width="0.12" letter-spacing="0.1">RR DGF</text>
</svg>
</body></html>
